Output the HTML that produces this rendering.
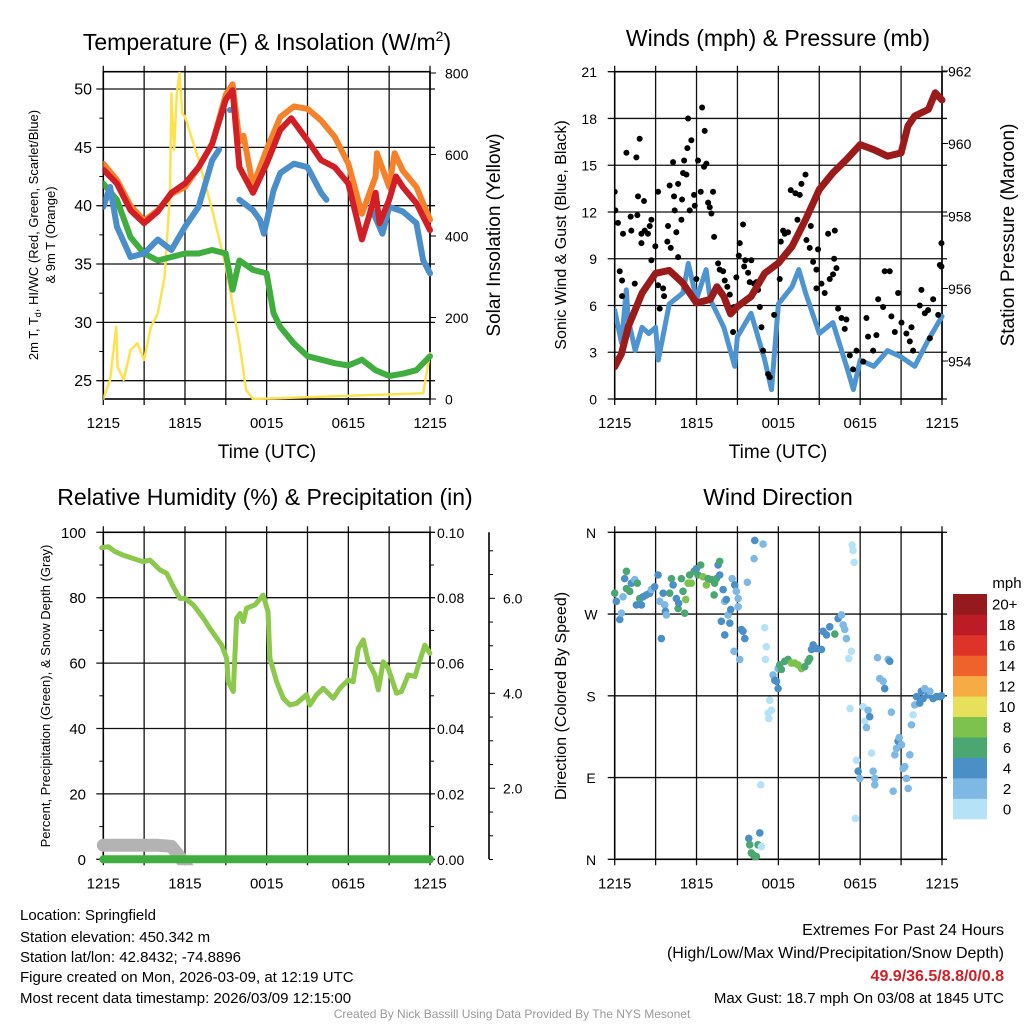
<!DOCTYPE html>
<html><head><meta charset="utf-8">
<style>
html,body{margin:0;padding:0;background:#fff;}
svg{display:block;font-family:"Liberation Sans",Arial,sans-serif;}
</style></head>
<body>
<svg id="root" width="1024" height="1024" viewBox="0 0 1024 1024">
<rect x="0" y="0" width="1024" height="1024" fill="#fff"/>
<g id="g1"></g>
<g id="g2"></g>
<g id="g3"></g>
<g id="g4"></g>
<g id="gtext">
<text x="20" y="920" font-size="15">Location: Springfield</text>
<text x="20" y="942" font-size="15">Station elevation: 450.342 m</text>
<text x="20" y="962" font-size="15">Station lat/lon: 42.8432; -74.8896</text>
<text x="20" y="982" font-size="15">Figure created on Mon, 2026-03-09, at 12:19 UTC</text>
<text x="20" y="1003" font-size="15">Most recent data timestamp: 2026/03/09 12:15:00</text>
<text x="1004" y="935" font-size="16" text-anchor="end">Extremes For Past 24 Hours</text>
<text x="1004" y="958" font-size="16" text-anchor="end">(High/Low/Max Wind/Precipitation/Snow Depth)</text>
<text x="1004" y="981" font-size="16" font-weight="bold" fill="#d11f26" text-anchor="end">49.9/36.5/8.8/0/0.8</text>
<text x="1004" y="1003" font-size="15" text-anchor="end">Max Gust: 18.7 mph On 03/08 at 1845 UTC</text>
<text x="512" y="1018" font-size="12" fill="#999" text-anchor="middle">Created By Nick Bassill Using Data Provided By The NYS Mesonet</text>
</g>
</svg>
<script>
// ---------- DATA ----------
const xTickLabels = ["1215","","1815","","0015","","0615","","1215"];
// Panel 1 temperature (F) vs hours since 1215 UTC
const redT = [0,1,2,3,4,5,6,7,8,9,9.5,10,11,12,13,13.8,15,16,17,18,19,19.5,20,20.3,21,21.5,22,23,24];
const redV = [43.1,41.9,39.6,38.5,39.5,41.1,41.9,43.3,45.3,49.1,49.9,43.3,41.1,43.6,46.5,47.5,45.6,43.9,43.3,41.9,37.1,39,41.1,38.5,40.5,42.5,41.6,40.2,37.9];
const orgT = [0,1,2,3,4,5,6,7,8,9,9.5,10,10.3,11,12,13,14,15,16,17,18,19,20,20.1,21,21.4,22,23,24];
const orgV = [43.6,42.2,40,38.7,39.6,41,41.6,43.3,45.3,49.5,50.4,45.5,46,41.7,44.8,47.6,48.5,48.3,47.3,45.9,43.6,39.3,42.5,44.5,41.6,44.5,43,41.6,38.8];
const bluT = [0,0.5,1,2,3,4,5,6,7,8,8.5,8.9,9.3,9.6,10,11,11.5,11.8,12.5,13,14,15,16,16.4,16.8,19.8,20.5,21,22,23,23.5,24];
const bluV = [39.9,41.6,38.2,35.6,35.9,37.1,36.2,38.2,39.9,43.9,44.8,null,48.2,null,40.5,39.6,38.8,37.6,41.3,42.8,43.6,43.3,41.1,40.5,null,39.5,37.6,39.9,39.5,38.5,35.3,34.2];
const grnT = [0,1,2,3,4,5,6,7,8,9,9.5,10,11,12,12.5,13,14,15,16,17,18,19,20,21,22,23,24];
const grnV = [41.9,40.5,37.3,35.9,35.3,35.6,35.9,35.9,36.2,35.9,32.8,35.3,34.5,34.2,30.8,29.6,28.2,27.1,26.8,26.5,26.3,26.8,25.9,25.4,25.6,25.9,27.1];
const solT = [0,0.5,0.95,1.05,1.5,2,2.5,3,3.5,4,4.5,4.9,5,5.2,5.4,5.6,5.8,6,7,8,9,10,10.5,11,23.5,24];
const solV = [0,47,177,79,47,120,137,96,177,210,300,505,750,611,750,800,700,693,587,464,325,137,22,0,14,112];
const tempTicks = [25,30,35,40,45,50];
const solarTicks = [0,200,400,600,800];
// Panel 2 wind & pressure
const windT = [0,0.5,0.85,1,1.5,2,2.5,3,3.2,4,5,5.4,6,6.7,7,8,8.8,9,10,11,11.5,12,13,13.5,14,15,16,17,17.5,18,19,20,21,22,23,24];
const windV = [5.7,3.6,7.0,5.1,3.1,4.6,4.2,4.6,2.5,6.1,6.8,8.7,6.4,8.3,6.4,4.6,2.1,4.0,5.5,2.5,0.6,6.1,7.2,8.3,6.8,4.2,4.9,2.1,0.6,2.5,2.1,3.1,2.7,2.1,3.8,5.3];
const presT = [0,0.5,1,2,3,4,5,6,7,7.5,8,8.5,9,10,11,12,13,14,15,16,17,18,19,20,21,21.5,22,23,23.5,24];
const presV = [953.84,954.2,954.95,955.87,956.42,956.5,956.15,955.6,955.7,956.05,955.78,955.3,955.5,955.78,956.42,956.7,957.16,957.9,958.73,959.19,959.56,959.97,959.83,959.65,959.74,960.48,960.76,960.94,961.4,961.2];
const gustT = [0,0.05,0.24,0.61,0.37,0.54,0.54,0.86,1.17,1.22,1.47,1.59,1.66,1.83,1.71,1.96,1.96,2.15,2.2,2.44,2.57,2.69,2.69,2.98,3.18,3.18,3.3,3.55,3.62,3.86,3.91,4.03,4.11,4.28,4.35,4.4,4.52,4.65,4.65,4.89,4.94,5.01,5.09,5.26,5.33,5.38,5.5,5.62,5.82,5.87,5.99,6.11,6.31,6.41,6.6,6.55,6.72,6.85,6.97,7.09,7.21,7.29,7.58,7.7,7.95,8.07,8.26,8.44,8.68,8.75,8.92,9.1,9.17,9.41,9.49,9.58,9.78,9.9,10.02,10.22,10.39,10.51,10.64,10.76,10.88,11.25,11.37,11.69,12.1,12.18,12.35,12.47,12.71,12.91,13.25,13.4,13.57,13.69,13.99,14.06,14.3,14.38,14.55,14.79,14.91,14.79,15.16,15.4,15.65,15.77,16.01,16.14,16.09,16.26,16.38,16.63,16.87,16.99,17.24,17.48,17.73,18.22,18.46,18.58,18.95,19.19,19.32,19.68,19.8,20.17,20.29,20.54,20.78,21.03,21.39,21.64,21.76,21.88,22.37,22.49,22.74,22.98,23.11,23.35,23.72,23.84,23.96,23.96];
const gustV = [13.3,12.1,11.3,10.6,8.2,7.6,6.6,15.8,11.7,10.8,7.4,15.5,11.8,16.7,13.0,10.6,10.0,12.7,10.8,10.6,11.1,11.5,8.9,9.8,13.3,7.3,5.8,7.1,6.6,10.1,11.1,13.7,9.7,15.2,13.0,12.1,10.7,13.8,9.1,11.5,12.8,14.5,15.3,14.4,16.1,18.0,12.1,16.6,13.1,12.4,7.7,15.3,13.3,18.7,17.2,14.9,15.1,12.6,12.3,11.9,13.3,10.4,8.7,8.3,8.2,7.6,7.2,6.7,4.3,5.9,7.8,9.2,10.0,11.2,8.5,8.9,8.1,7.5,8.9,7.4,7.5,7.0,5.9,4.6,3.1,1.6,1.4,5.4,7.7,10.1,10.8,10.6,10.7,13.4,13.2,11.5,13.1,13.8,14.4,10.2,9.7,11.1,8.8,8.3,9.6,7.1,7.4,6.8,10.6,7.7,8.0,10.8,9.0,8.4,5.8,5.2,4.5,5.1,2.8,1.9,3.1,2.4,5.2,4.0,3.1,4.1,6.4,5.9,8.2,8.2,5.3,4.3,6.8,4.9,4.2,3.7,4.6,3.1,6.0,7.0,5.5,5.7,3.9,6.4,5.4,8.6,10.0,8.5];
const windTicks = [0,3,6,9,12,15,18,21];
const presTicks = [954,956,958,960,962];
// Panel 3 humidity, precip, snow depth
const rhT = [-0.12,0.37,0.86,1.47,2.2,2.94,3.43,4.16,4.65,5.14,5.63,6,6.61,7.35,7.83,8.69,9.06,9.18,9.55,9.79,10.04,10.28,10.53,11.14,11.75,12.1,12.24,12.73,13.22,13.71,14.2,14.93,15.18,15.67,16.16,16.89,17.38,17.99,18.36,18.73,19.1,19.46,19.95,20.2,20.56,20.93,21.17,21.54,21.91,22.4,22.89,23.62,23.99];
const rhV = [95.3,95.6,94.1,93,92,91,91.5,88.5,87.5,83.4,79.8,79.8,77.8,73.7,70.6,65.5,61.5,54.3,51.3,73.7,75.2,72.7,76.8,77.8,80.8,75.7,61.5,54.3,49.2,47.2,47.7,50.3,47.2,50.3,52.3,49.2,52.3,54.8,54.3,64.5,67.1,60.4,56.4,51.8,60.4,58.4,55.4,50.8,51.3,56.4,55.9,65.5,63];
const precipT = [0,24];
const precipV = [0,0];
const snowT = [0,1,2,3,4,5,5.5,6,6.5];
const snowV = [0.8,0.8,0.8,0.8,0.8,0.78,0.6,0.4,0.2];
const rhTicks = [0,20,40,60,80,100];
const precipTicks = ["0.00","0.02","0.04","0.06","0.08","0.10"];
const snowTicks = [2,4,6];
// Panel 4 wind direction (degrees) coloured by speed (mph)
const dirT = [0,0.12,0.37,0.49,0.61,0.73,0.86,0.86,1.1,1.22,1.47,1.59,1.66,1.83,1.96,2.08,2.32,2.57,2.69,2.93,3.18,3.3,3.42,3.55,3.67,3.72,3.79,4.03,4.16,4.28,4.52,4.65,4.69,4.89,5.01,5.13,5.21,5.38,5.5,5.62,5.82,5.99,6.11,6.31,6.48,6.72,6.85,7.09,7.29,7.33,7.46,7.58,7.7,7.7,7.82,7.95,8.07,8.07,8.19,8.31,8.44,8.51,8.61,8.75,8.8,8.92,9.05,9.05,9.17,9.29,9.41,9.54,9.73,9.83,9.9,10.02,10.15,10.27,10.39,10.51,10.64,10.76,10.71,10.27,10.88,10.22,11,11.12,11.05,11.37,11.49,11.25,11.3,11.61,11.74,11.86,11.98,11.98,12.1,12.22,12.47,12.71,12.96,13.2,13.45,13.69,13.94,14.18,14.3,14.43,14.55,14.79,15.16,15.28,15.53,15.77,16.14,16.38,16.63,16.75,16.87,16.99,17.36,17.16,17.41,17.48,17.56,17.26,17.73,17.85,17.97,18.22,18.34,18.46,18.58,18.7,18.83,18.95,19.07,19.07,19.27,19.44,19.68,19.8,20.05,20.17,20.29,20.42,20.54,20.66,20.78,20.86,21.03,21.15,21.27,21.39,21.52,21.64,21.76,21.88,22,22.13,22.37,22.49,22.62,22.74,22.98,23.11,23.35,23.59,23.84,23.96,17.65];
const dirDeg = [293,284,264,271,289,309,317,298,295,304,308,280,304,287,280,289,291,293,297,300,313,284,243,293,280,273,269,293,309,302,287,276,282,309,295,271,286,304,313,304,317,320,313,324,311,302,309,308,291,304,309,324,328,313,262,297,284,247,286,269,260,275,309,229,302,295,287,278,220,253,251,243,305,23,16,7,5,3,3,16,29,14,82,351,347,331,255,234,220,175,164,161,155,203,197,196,188,210,214,209,218,220,216,216,214,210,212,218,221,231,236,232,231,251,247,256,248,265,269,258,253,243,229,221,346,340,327,166,109,97,89,168,152,145,164,157,117,97,89,82,222,199,196,188,220,218,162,75,115,122,130,134,126,100,102,89,78,115,148,159,170,179,172,185,177,188,181,185,177,179,179,180,45];
const dirSpd = [7,5,5,3,3,5,7,7,7,5,3,5,7,7,5,5,5,5,3,5,5,3,5,5,3,5,3,7,7,5,5,7,5,7,7,7,9,9,7,9,7,5,7,7,9,9,7,7,7,7,7,5,7,5,5,5,3,5,5,3,5,5,3,3,5,3,3,3,3,5,5,5,3,5,7,7,7,7,7,7,5,1,1,5,3,3,1,1,1,1,1,1,1,3,5,5,5,3,7,7,7,7,9,9,9,9,7,7,7,5,5,5,5,5,5,5,7,5,3,3,3,3,1,1,1,1,1,1,1,5,3,1,1,3,3,5,1,3,3,3,3,3,3,5,3,5,3,3,3,3,5,3,3,3,3,3,3,3,3,1,3,5,5,5,5,3,5,3,5,5,5,5,1];
const dirLabels = ["N","E","S","W","N"];
const speedBinLabels = ["0","2","4","6","8","10","12","14","16","18","20+"];
const speedColors = ["#b5e2f7","#7db9e4","#4a8fc6","#4aa771","#7cc24c","#e6e05a","#f6ab45","#ef622c","#dd3328","#bb1c25","#941a1d"];

// ---------- DRAW ----------
const NS="http://www.w3.org/2000/svg";
function mk(tag, attrs, parent){const e=document.createElementNS(NS,tag);for(const k in attrs)e.setAttribute(k,attrs[k]);parent.appendChild(e);return e;}
function lin(d0,d1,r0,r1){return v=>r0+(v-d0)/(d1-d0)*(r1-r0);}

function frame(g,X0,X1,Y0,Y1){
  // vertical grid
  for(let i=0;i<=8;i++){const x=X0+(X1-X0)*i/8;
    const l=mk('line',{x1:x,x2:x,y1:Y0-6,y2:Y1+6,stroke:'#111','stroke-width':1.3},g);
    
    }
  const r=mk('rect',{x:X0,y:Y0,width:X1-X0,height:Y1-Y0,fill:'none',stroke:'#000','stroke-width':1.6},g);
  
  
  const xs=lin(0,8,X0,X1);
  xTickLabels.forEach((s,i)=>{ if(!s)return;
    const t=mk('text',{x:xs(i),y:Y1+29,'font-size':15,'text-anchor':'middle'},g);t.textContent=s;
    
    });
}
function hgrid(g,X0,X1,y){const l=mk('line',{x1:X0-7,x2:X1+5,y1:y,y2:y,stroke:'#111','stroke-width':1.3},g);
  
  }
function label(g,x,y,s,anchor,size,name){const t=mk('text',{x:x,y:y,'font-size':size||15,'text-anchor':anchor||'start'},g);t.textContent=s;
  
  return t;}
function path(g,T,V,xs,ys,color,w,name){
  let d='';let pen=false;const singles=[];
  for(let i=0;i<T.length;i++){
    if(V[i]===null||V[i]===undefined){pen=false;continue;}
    const prevNull=(i===0||V[i-1]===null), nextNull=(i===T.length-1||V[i+1]===null);
    if(prevNull&&nextNull){singles.push([xs(T[i]),ys(V[i])]);pen=false;continue;}
    d+=(pen?'L':'M')+xs(T[i]).toFixed(1)+','+ys(V[i]).toFixed(1);pen=true;}
  const p=mk('path',{d:d,fill:'none',stroke:color,'stroke-width':w,'stroke-linejoin':'round','stroke-linecap':'round'},g);
  
  
  singles.forEach(s=>{const c=mk('circle',{cx:s[0],cy:s[1],r:w/2,fill:color},g);
    
    });
}
function rotText(g,x,y,s,size,name){const t=mk('text',{x:0,y:0,'font-size':size,'text-anchor':'middle',transform:`translate(${x},${y}) rotate(-90)`},g);t.textContent=s;
  
  return t;}

// Panel 1
(function(){
  const g=document.getElementById('g1');
  const X0=103.3,X1=430,Y0=71.7,Y1=399;
  const xs=lin(0,24,X0,X1), ys=lin(25,50,380.7,89), ss=lin(0,800,399,73);
  tempTicks.forEach(v=>{hgrid(g,X0,X1,ys(v));label(g,92,ys(v)+5.5,String(v),'end',16,'temp-tick-label');});
  [27.5,32.5,37.5,42.5,47.5].forEach(v=>{const l=mk('line',{x1:X0-4,x2:X0,y1:ys(v),y2:ys(v),stroke:'#000'},g);});
  solarTicks.forEach(v=>{const l=mk('line',{x1:X1,x2:X1+6,y1:ss(v),y2:ss(v),stroke:'#000'},g);
    label(g,445,ss(v)+5.5,String(v),'start',14,'solar-tick-label');});
  frame(g,X0,X1,Y0,Y1);
  const cp=mk('clipPath',{id:'c1'},g);mk('rect',{x:X0,y:Y0-2,width:X1-X0+3,height:Y1-Y0+3},cp);
  const pg=mk('g',{'clip-path':'url(#c1)'},g);
  path(pg,solT,solV,xs,ss,'#fde24f',2.5,'solar-insolation-line');
  path(pg,grnT,grnV,xs,ys,'#3fae3f',6,'dewpoint-line');
  path(pg,orgT,orgV,xs,ys,'#f5822b',6,'temp-9m-line');
  path(pg,bluT,bluV,xs,ys,'#4a8fc9',6,'windchill-line');
  path(pg,redT,redV,xs,ys,'#d21f26',6,'temp-2m-line');
  const tt=label(g,267,50,'Temperature (F) & Insolation (W/m','middle',23,'temperature-panel-title');
  const sup=mk('tspan',{'font-size':14,dy:-9},tt);sup.textContent='2';
  const cl=mk('tspan',{dy:9},tt);cl.textContent=')';
  label(g,267,458,'Time (UTC)','middle',19,'x-axis-title');
  const yt=rotText(g,38,235,'2m T, T','middle',13,'temp-axis-title');
  yt.setAttribute('font-size',13);
  const sub=mk('tspan',{'font-size':9,dy:3},yt);sub.textContent='d';
  const rest=mk('tspan',{dy:-3},yt);rest.textContent=', HI/WC (Red, Green, Scarlet/Blue)';
  rotText(g,55,235,'& 9m T (Orange)',13,'temp-axis-title-line2');
  rotText(g,500,235,'Solar Insolation (Yellow)',19,'solar-axis-title');
})();

// Panel 2
(function(){
  const g=document.getElementById('g2');
  const X0=614.7,X1=942,Y0=71.7,Y1=399;
  const xs=lin(0,24,X0,X1), ys=lin(0,21,399,71.7), ps=lin(954,962,361,71);
  windTicks.forEach(v=>{hgrid(g,X0,X1,ys(v));label(g,597,ys(v)+5.5,String(v),'end',14,'wind-tick-label');});
  presTicks.forEach(v=>{const l=mk('line',{x1:X1,x2:X1+6,y1:ps(v),y2:ps(v),stroke:'#000'},g);
    label(g,948,ps(v)+5.5,String(v),'start',14,'pressure-tick-label');});
  frame(g,X0,X1,Y0,Y1);
  const cp=mk('clipPath',{id:'c2'},g);mk('rect',{x:X0,y:Y0-2,width:X1-X0+4,height:Y1-Y0+3},cp);
  const pg=mk('g',{'clip-path':'url(#c2)'},g);
  path(pg,windT,windV,xs,ys,'#4d94d0',5,'sonic-wind-line');
  gustT.forEach((t,i)=>{const c=mk('circle',{cx:xs(t),cy:ys(gustV[i]),r:3,fill:'#000'},pg);
    
    });
  path(pg,presT,presV,xs,ps,'#9b1b1b',7,'pressure-line');
  label(g,778,46,'Winds (mph) & Pressure (mb)','middle',23,'wind-panel-title');
  label(g,778,458,'Time (UTC)','middle',19,'x-axis-title');
  rotText(g,566,235,'Sonic Wind & Gust (Blue, Black)',16,'wind-axis-title');
  rotText(g,1014,235,'Station Pressure (Maroon)',19,'pressure-axis-title');
})();

// Panel 3
(function(){
  const g=document.getElementById('g3');
  const X0=103.3,X1=430,Y0=532.3,Y1=859.3;
  const xs=lin(0,24,X0,X1), ys=lin(0,100,859.3,532.3), zs=lin(0,1,883.3,835.8);
  rhTicks.forEach((v,i)=>{hgrid(g,X0,X1,ys(v));label(g,86,ys(v)+5.5,String(v),'end',15,'rh-tick-label');
    label(g,437,ys(v)+5.5,precipTicks[i],'start',14,'precip-tick-label');});
  [10,30,50,70,90].forEach(v=>{const l=mk('line',{x1:X0-4,x2:X0,y1:ys(v),y2:ys(v),stroke:'#000'},g);
    const r=mk('line',{x1:X1,x2:X1+4,y1:ys(v),y2:ys(v),stroke:'#000'},g);});
  const ax=mk('line',{x1:489,x2:489,y1:Y0,y2:Y1,stroke:'#000','stroke-width':1.6},g);
  
  
  for(let v=0.5;v<=7.4;v+=0.5){const big=Math.abs(v%2)<0.01;
    const l=mk('line',{x1:489,x2:489+(big?6:4),y1:zs(v),y2:zs(v),stroke:'#000'},g);
    
    }
  snowTicks.forEach(v=>label(g,503,zs(v)+5,v.toFixed(1),'start',14,'snow-tick-label'));
  frame(g,X0,X1,Y0,Y1);
  const cp=mk('clipPath',{id:'c3'},g);mk('rect',{x:X0-10,y:Y0-2,width:X1-X0+20,height:Y1-Y0+8},cp);
  const pg=mk('g',{'clip-path':'url(#c3)'},g);
  path(pg,snowT,snowV,xs,zs,'#b3b3b3',13,'snow-depth-line');
  path(pg,precipT,precipV,xs,lin(0,0.1,859.3,532.3),'#3fae3f',8,'precip-line');
  path(pg,rhT,rhV,xs,ys,'#8cc84b',5,'rh-line');
  label(g,265,505,'Relative Humidity (%) & Precipitation (in)','middle',23,'rh-panel-title');
  rotText(g,50,696,'Percent, Precipitation (Green), & Snow Depth (Gray)',13,'rh-axis-title');
})();

// Panel 4
(function(){
  const g=document.getElementById('g4');
  const X0=614.7,X1=942,Y0=532.3,Y1=859.3;
  const xs=lin(0,24,X0,X1), ys=lin(0,360,859.3,532.3);
  dirLabels.forEach((s,i)=>{const y=ys(i*90);hgrid(g,X0,X1,y);label(g,591,y+5.5,s,'middle',14,'direction-tick-label');});
  frame(g,X0,X1,Y0,Y1);
  dirT.forEach((t,i)=>{const b=Math.min(10,Math.floor(dirSpd[i]/2));
    const c=mk('circle',{cx:xs(t),cy:ys(dirDeg[i]),r:3.8,fill:speedColors[b]},g);
    
    });
  const bh=(819-594)/11;
  speedColors.forEach((col,i)=>{const y=819-(i+1)*bh;
    const r=mk('rect',{x:953,y:y,width:34,height:bh+0.3,fill:col},g);
    
    
    label(g,i===10?992:1007,y+bh/2+5.5,speedBinLabels[i],i===10?'start':'middle',15,'colorbar-label');});
  label(g,1007,588,'mph','middle',15,'colorbar-title');
  label(g,778,505,'Wind Direction','middle',23,'direction-panel-title');
  rotText(g,566,696,'Direction (Colored By Speed)',16,'direction-axis-title');
})();
</script>
</body></html>
